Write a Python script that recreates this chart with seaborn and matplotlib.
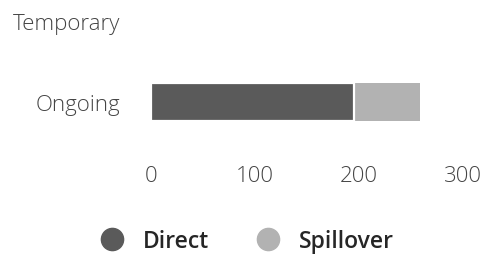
import matplotlib
matplotlib.use("Agg")
import matplotlib.pyplot as plt
from matplotlib.lines import Line2D
import pandas as pd
import seaborn as sns

categories = ["Temporary", "Ongoing"]
direct = [0, 195]
spillover = [0, 64]
x_ticks = [0, 100, 200, 300]
series_names = ["Direct", "Spillover"]
series_colors = ["#5a5a5a", "#b2b2b2"]

df = pd.DataFrame({"category": categories, "Direct": direct, "Spillover": spillover})
df["Total"] = df["Direct"] + df["Spillover"]

sns.set_theme(style="white")
plt.rcParams["font.family"] = ["Open Sans", "DejaVu Sans"]

fig = plt.figure(figsize=(4.93, 2.55), dpi=100)
ax = fig.add_axes([151 / 493, 1 - 140 / 255, 312 / 493, 140 / 255])

# stacked look: total in spillover colour, direct drawn on top of it
sns.barplot(data=df, x="Total", y="category", order=categories, orient="h",
            color=series_colors[1], width=0.47, edgecolor="white", linewidth=0,
            ax=ax)
sns.barplot(data=df, x="Direct", y="category", order=categories, orient="h",
            color=series_colors[0], width=0.47, edgecolor="white", linewidth=1.6,
            ax=ax)

ax.set_xlim(0, 300)
ax.set_ylim(1.457, -0.272)
ax.set_xticks(x_ticks)
ax.set_xticklabels([str(t) for t in x_ticks])
ax.set_xlabel("")
ax.set_ylabel("")
ax.tick_params(axis="both", length=0, labelsize=16, colors="#444444")
ax.tick_params(axis="x", pad=19)
ax.tick_params(axis="y", pad=22)
for lab in ax.get_xticklabels() + ax.get_yticklabels():
    lab.set_fontweight("light")
sns.despine(ax=ax, left=True, bottom=True)

handles = [Line2D([], [], marker="o", linestyle="", markersize=16,
                  markerfacecolor=c, markeredgecolor=c) for c in series_colors]
fig.legend(handles, series_names, loc="center", bbox_to_anchor=(0.49, 1 - 242 / 255),
           ncol=2, frameon=False, handletextpad=0.35, columnspacing=1.6,
           prop={"size": 16.5, "weight": "semibold"})

fig.savefig("out.png", dpi=100)
